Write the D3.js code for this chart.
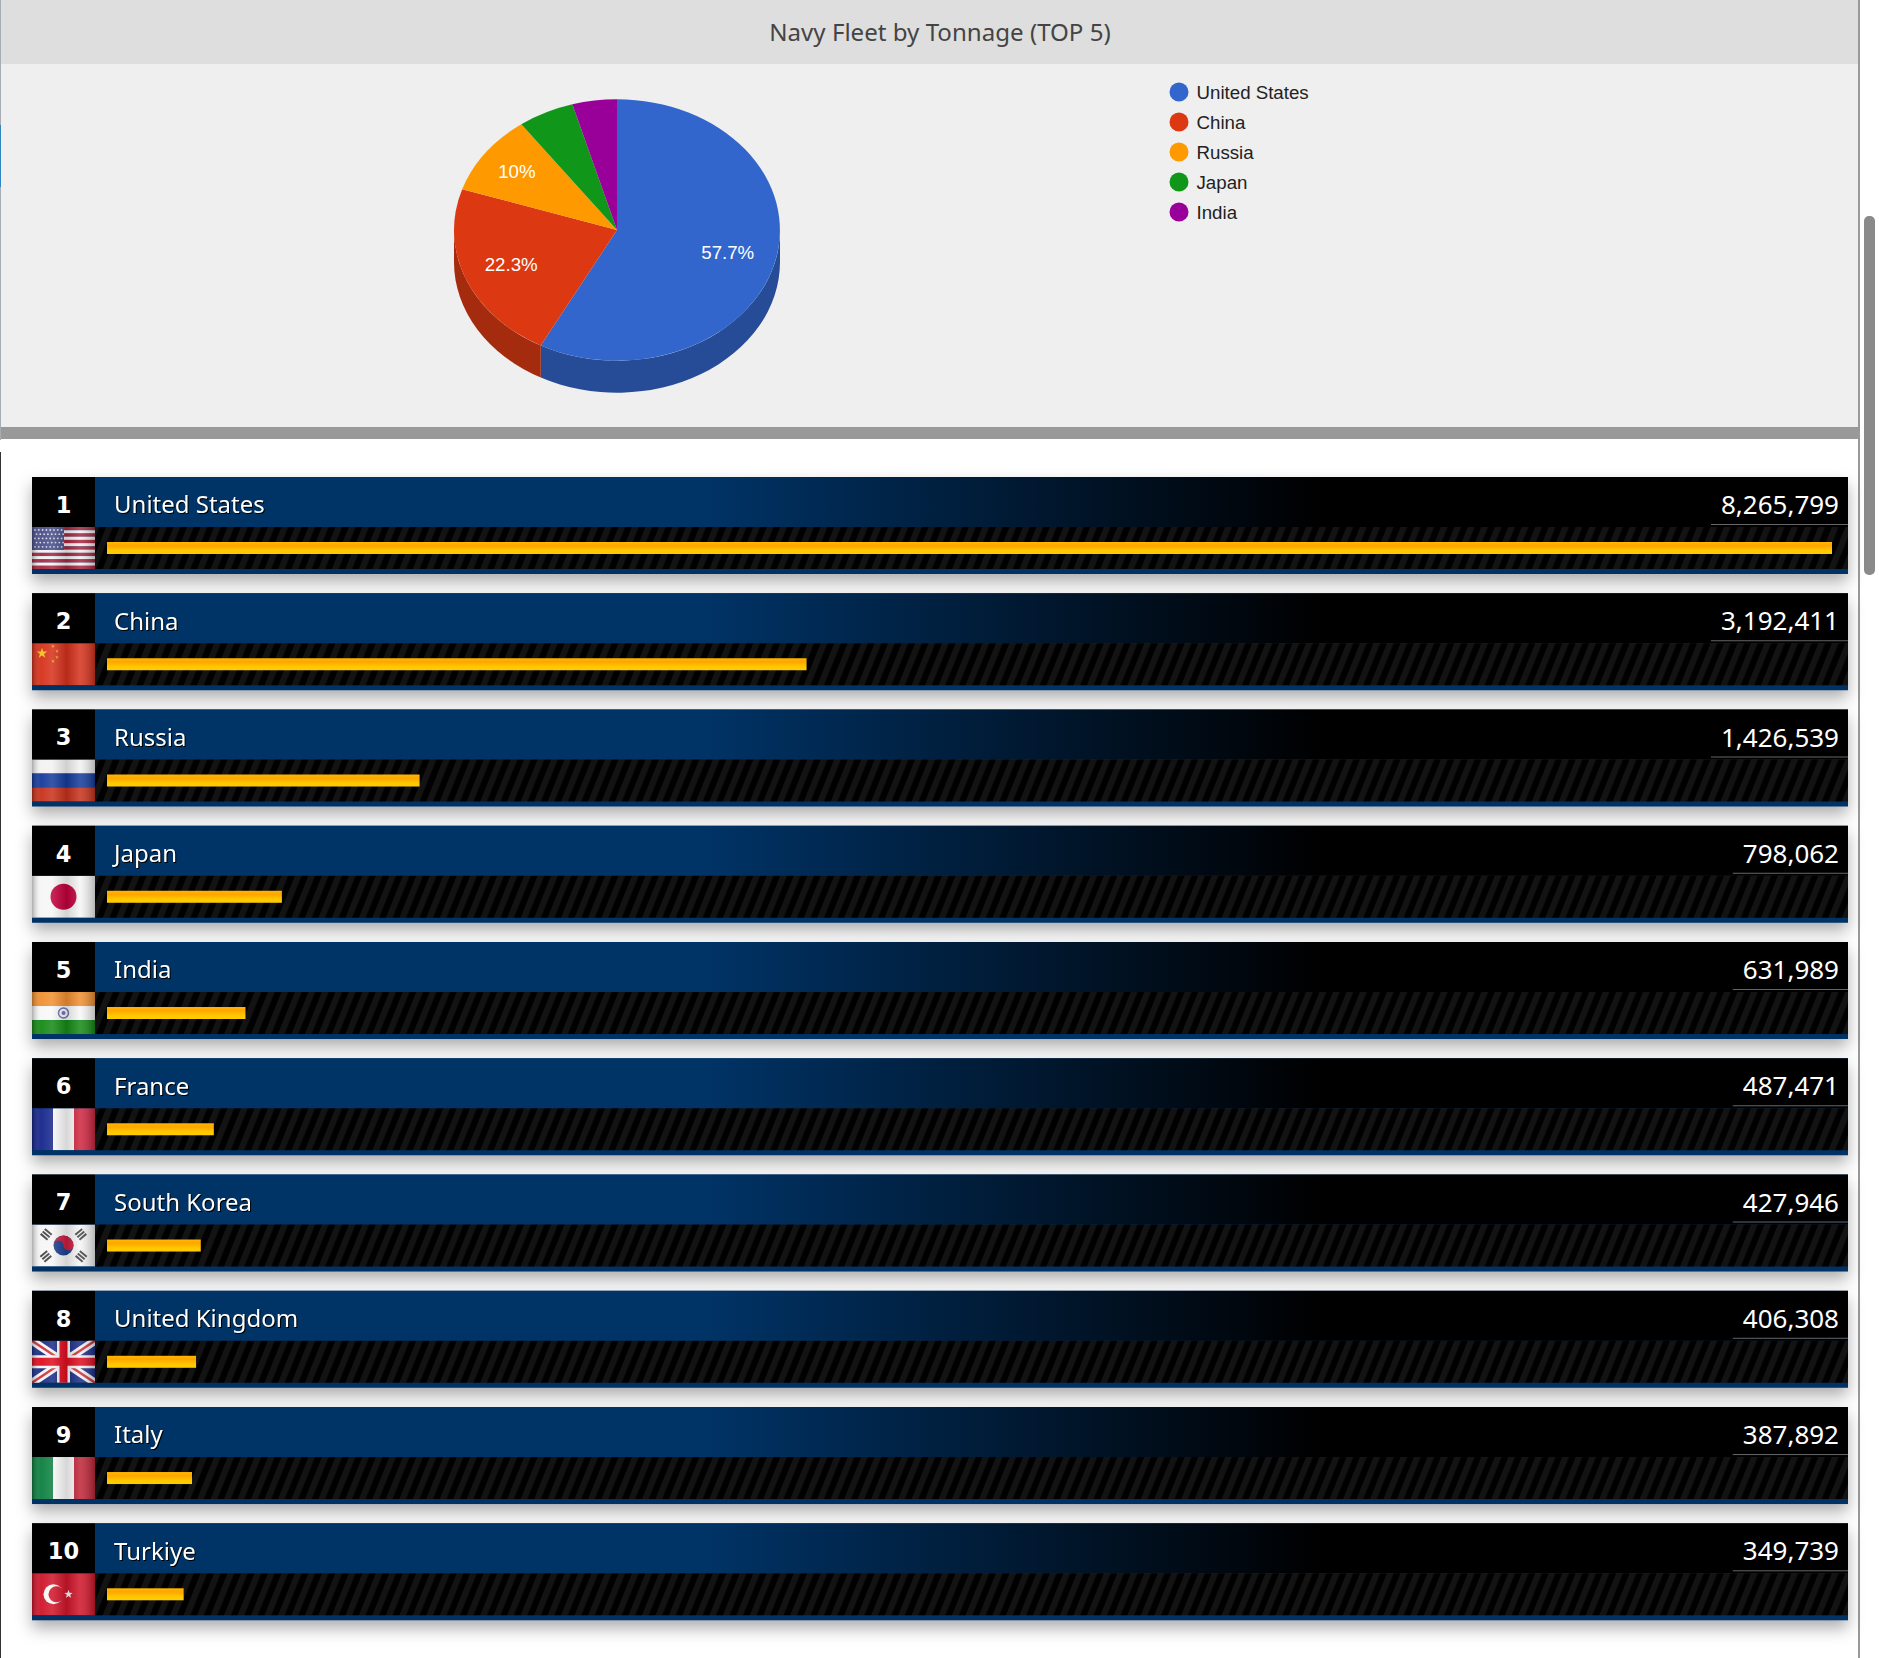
<!DOCTYPE html>
<html>
<head>
<meta charset="utf-8">
<script src="https://cdn.jsdelivr.net/npm/d3@7"></script>
<style>
html, body { margin: 0; padding: 0; background: #fff; overflow: hidden; }
svg { display: block; }
text { font-family: "Noto Sans", sans-serif; }
.gchart { font-family: "Liberation Sans", Arial, sans-serif; }
</style>
</head>
<body>
<div id="chart"></div>
<script>
// values
const countries = ["United States", "China", "Russia", "Japan", "India", "France", "South Korea", "United Kingdom", "Italy", "Turkiye"];
const tonnage = [8265799, 3192411, 1426539, 798062, 631989, 487471, 427946, 406308, 387892, 349739];
const pieCountries = countries.slice(0, 5);
const pieValues = tonnage.slice(0, 5);
const pieColors = ["#3366cc", "#dc3912", "#ff9900", "#109618", "#990099"];
const pieTitle = "Navy Fleet by Tonnage (TOP 5)";
// the bars run to about 105% of the top value and are cut at the track end
const barDomainMax = 7872000;

const width = 1879, height = 1658;
const svg = d3.select("#chart").append("svg").attr("width", width).attr("height", height);
const defs = svg.append("defs");

// page frame
svg.append("rect").attr("x", 1).attr("y", 0).attr("width", 1858).attr("height", 64).attr("fill", "#dedede");
svg.append("rect").attr("x", 1).attr("y", 64).attr("width", 1858).attr("height", 363).attr("fill", "#efefef");
svg.append("rect").attr("x", 1).attr("y", 427).attr("width", 1858).attr("height", 12).attr("fill", "#999");
svg.append("rect").attr("x", 0).attr("y", 0).attr("width", 1).attr("height", 440).attr("fill", "#a8adb3");
svg.append("rect").attr("x", 0).attr("y", 125).attr("width", 1).attr("height", 62).attr("fill", "#2f86c0");
svg.append("rect").attr("x", 0).attr("y", 452).attr("width", 1).attr("height", 1206).attr("fill", "#333");
svg.append("rect").attr("x", 1858).attr("y", 0).attr("width", 2).attr("height", height).attr("fill", "#999");
svg.append("rect").attr("x", 1864).attr("y", 216).attr("width", 11).attr("height", 359).attr("rx", 5).attr("fill", "#8a8a8a");

svg.append("text").attr("x", 940).attr("y", 33).attr("dy", "0.35em")
    .attr("text-anchor", "middle").style("font-size", "24.1px").attr("fill", "#444")
    .text(pieTitle);

// 3D pie: a flat pie squashed to an ellipse, with a wall for the front half
const cx = 617, cy = 230, rx = 163, ry = 130.7, depth = 32;
const pie = d3.pie().sort(null)(pieValues);
const total = d3.sum(pieValues);
const unitArc = d3.arc().innerRadius(0).outerRadius(1);
const pieG = svg.append("g").attr("transform", `translate(${cx},${cy})`);

// narrow slices push their label further out
function labelPos(d) {
    const k = d.value / total < 0.15 ? 0.76 : 0.7;
    return d3.arc().innerRadius(k).outerRadius(k).centroid(d);
}
function wallPath(d) {
    const a0 = Math.max(d.startAngle, Math.PI / 2);
    const a1 = Math.min(d.endAngle, Math.PI * 1.5);
    if (a1 <= a0) return null;
    const x0 = rx * Math.sin(a0), y0 = -ry * Math.cos(a0);
    const x1 = rx * Math.sin(a1), y1 = -ry * Math.cos(a1);
    return `M${x0},${y0}A${rx},${ry} 0 0 1 ${x1},${y1}L${x1},${y1 + depth}A${rx},${ry} 0 0 0 ${x0},${y0 + depth}Z`;
}
pieG.selectAll("path.wall").data(pie).join("path")
    .attr("class", "wall")
    .attr("d", wallPath)
    .attr("fill", d => d3.color(pieColors[d.index]).darker(0.82));
pieG.selectAll("path.top").data(pie).join("path")
    .attr("class", "top")
    .attr("d", unitArc)
    .attr("transform", `scale(${rx},${ry})`)
    .attr("fill", d => pieColors[d.index]);
pieG.selectAll("text").data(pie.filter(d => d.value / total >= 0.08)).join("text")
    .attr("class", "gchart")
    .attr("x", d => labelPos(d)[0] * rx)
    .attr("y", d => labelPos(d)[1] * ry)
    .attr("dy", "0.35em")
    .attr("text-anchor", "middle")
    .attr("fill", "#fff")
    .style("font-size", "18.7px")
    .text(d => d3.format(".1~f")(d.value / total * 100) + "%");

// legend
const legend = svg.append("g").selectAll("g").data(pieCountries).join("g")
    .attr("transform", (d, i) => `translate(1179,${92 + i * 30})`);
legend.append("circle").attr("r", 9.5).attr("fill", (d, i) => pieColors[i]);
legend.append("text").attr("class", "gchart").attr("x", 17.5).attr("dy", "0.35em")
    .style("font-size", "18.7px").attr("fill", "#222").text(d => d);

// row styles
const headGrad = defs.append("linearGradient").attr("id", "headGrad");
headGrad.append("stop").attr("offset", "35%").attr("stop-color", "#003366");
headGrad.append("stop").attr("offset", "70%").attr("stop-color", "#000");

const barGrad = defs.append("linearGradient").attr("id", "barGrad").attr("x1", 0).attr("y1", 0).attr("x2", 0).attr("y2", 1);
barGrad.append("stop").attr("offset", "0%").attr("stop-color", "#ffb800");
barGrad.append("stop").attr("offset", "30%").attr("stop-color", "#ffa500");
barGrad.append("stop").attr("offset", "70%").attr("stop-color", "#ffc800");
barGrad.append("stop").attr("offset", "100%").attr("stop-color", "#ffcc00");

const stripes = defs.append("pattern").attr("id", "stripes").attr("patternUnits", "userSpaceOnUse")
    .attr("width", 12.5).attr("height", 12.5).attr("patternTransform", "rotate(22)");
stripes.append("rect").attr("width", 12.5).attr("height", 12.5).attr("fill", "#000");
stripes.append("rect").attr("width", 6.25).attr("height", 12.5).attr("fill", "#131313");

const shadow = defs.append("filter").attr("id", "rowShadow")
    .attr("x", "-3%").attr("y", "-30%").attr("width", "106%").attr("height", "170%");
shadow.append("feDropShadow").attr("dx", 0).attr("dy", 8).attr("stdDeviation", 8)
    .attr("flood-color", "#000").attr("flood-opacity", 0.32);

const wave = defs.append("linearGradient").attr("id", "wave");
[[0, "#000", 0.3], [0.14, "#fff", 0.04], [0.32, "#fff", 0.14], [0.55, "#000", 0.14], [0.76, "#fff", 0.14], [1, "#000", 0.26]]
    .forEach(s => wave.append("stop").attr("offset", s[0]).attr("stop-color", s[1]).attr("stop-opacity", s[2]));

defs.append("filter").attr("id", "soft").append("feGaussianBlur").attr("stdDeviation", 0.55);
defs.append("clipPath").attr("id", "flagClip").append("rect").attr("width", 63).attr("height", 42);

const flagW = 63, flagH = 42;

function bands(g, colors, vertical) {
    const s = d3.scaleBand().domain(d3.range(colors.length)).range([0, vertical ? flagW : flagH]);
    g.selectAll(null).data(colors).join("rect")
        .attr("x", (d, i) => vertical ? s(i) : 0)
        .attr("y", (d, i) => vertical ? 0 : s(i))
        .attr("width", vertical ? s.bandwidth() : flagW)
        .attr("height", vertical ? flagH : s.bandwidth())
        .attr("fill", d => d);
}
function star(g, x, y, r, fill) {
    const pts = d3.range(10).map(i => {
        const a = i * Math.PI / 5, q = i % 2 ? r * 0.4 : r;
        return [x + q * Math.sin(a), y - q * Math.cos(a)];
    });
    g.append("polygon").attr("points", pts.join(" ")).attr("fill", fill);
}

const flags = {
    "United States": g => {
        bands(g, d3.range(13).map(i => i % 2 ? "#f4f0f2" : "#a8283f"), false);
        g.append("rect").attr("width", 32).attr("height", 23).attr("fill", "#4a4f8a");
        d3.range(5).forEach(r => d3.range(8).forEach(c => {
            g.append("circle").attr("cx", 3 + c * 3.8 + (r % 2) * 1.5).attr("cy", 3 + r * 4.2).attr("r", 0.9).attr("fill", "#d8d8e8");
        }));
    },
    "China": g => {
        g.append("rect").attr("width", flagW).attr("height", flagH).attr("fill", "#d6301c");
        star(g, 10, 10, 5.5, "#f0c020");
        [[21, 3], [25, 8], [25, 14], [21, 18]].forEach(p => star(g, p[0], p[1], 2, "#e8a020"));
    },
    "Russia": g => bands(g, ["#f2f2f2", "#123a9c", "#c8301f"], false),
    "Japan": g => {
        g.append("rect").attr("width", flagW).attr("height", flagH).attr("fill", "#f6f6f6");
        g.append("circle").attr("cx", 31.5).attr("cy", 21).attr("r", 13).attr("fill", "#c2053a");
    },
    "India": g => {
        bands(g, ["#f09030", "#f8f8f8", "#128a18"], false);
        g.append("circle").attr("cx", 31.5).attr("cy", 21).attr("r", 5).attr("fill", "none").attr("stroke", "#6a6fb0").attr("stroke-width", 1.5);
        g.append("circle").attr("cx", 31.5).attr("cy", 21).attr("r", 2).attr("fill", "#6a6fb0");
    },
    "France": g => bands(g, ["#12288c", "#fafafa", "#d02840"], true),
    "South Korea": g => {
        g.append("rect").attr("width", flagW).attr("height", flagH).attr("fill", "#f6f6f6");
        g.append("circle").attr("cx", 31.5).attr("cy", 21).attr("r", 10).attr("fill", "#1f3f8f");
        g.append("path").attr("d", "M21.5,21A10,10 0 0 1 41.5,21A5,5 0 0 1 31.5,21A5,5 0 0 0 21.5,21Z").attr("fill", "#cc1f3c");
        [[14, 10, 40], [49, 10, -40], [14, 32, -40], [49, 32, 40]].forEach(p => {
            d3.range(3).forEach(k => {
                g.append("rect").attr("x", -4.5).attr("y", -4.5 + k * 3.2).attr("width", 9).attr("height", 2).attr("fill", "#444")
                    .attr("transform", `translate(${p[0]},${p[1]}) rotate(${p[2]})`);
            });
        });
    },
    "United Kingdom": g => {
        g.append("rect").attr("width", flagW).attr("height", flagH).attr("fill", "#1f2f88");
        g.append("path").attr("d", "M0,0L63,42M63,0L0,42").attr("stroke", "#f4f4f4").attr("stroke-width", 8);
        g.append("path").attr("d", "M0,0L63,42M63,0L0,42").attr("stroke", "#d0303c").attr("stroke-width", 2.5);
        g.append("path").attr("d", "M31.5,0V42M0,21H63").attr("stroke", "#f4f4f4").attr("stroke-width", 13);
        g.append("path").attr("d", "M31.5,0V42M0,21H63").attr("stroke", "#e01020").attr("stroke-width", 8);
    },
    "Italy": g => bands(g, ["#0f8040", "#fafafa", "#c02838"], true),
    "Turkiye": g => {
        g.append("rect").attr("width", flagW).attr("height", flagH).attr("fill", "#d0142a");
        g.append("circle").attr("cx", 21.5).attr("cy", 21).attr("r", 10).attr("fill", "#f6f6f6");
        g.append("circle").attr("cx", 24.5).attr("cy", 21).attr("r", 8).attr("fill", "#d0142a");
        star(g, 36.5, 21, 4.5, "#f6f6f6");
    }
};

// rows
const rowX = 32, rowW = 1816, rankW = 63, rowH = 97, headH = 50, stripH = 5;
const y = d3.scaleBand().domain(countries).range([477, 1620.3]).paddingInner(0.1656).paddingOuter(0);
const x = d3.scaleLinear().domain([0, barDomainMax]).range([0, 1725]).clamp(true);
const fmt = d3.format(",");

const rows = svg.append("g").selectAll("g").data(countries).join("g")
    .attr("transform", d => `translate(${rowX},${y(d)})`);

rows.append("rect").attr("width", rowW).attr("height", rowH).attr("fill", "#003366").attr("filter", "url(#rowShadow)");
rows.append("rect").attr("width", rankW).attr("height", headH).attr("fill", "#000");
rows.append("rect").attr("x", rankW).attr("width", rowW - rankW).attr("height", headH).attr("fill", "url(#headGrad)");
rows.append("rect").attr("x", rankW).attr("y", headH).attr("width", rowW - rankW).attr("height", rowH - headH - stripH).attr("fill", "url(#stripes)");

rows.append("text").attr("x", rankW / 2).attr("y", 28).attr("dy", "0.35em")
    .attr("text-anchor", "middle").attr("fill", "#fff")
    .style("font-family", "'DejaVu Sans', sans-serif").style("font-weight", 700).style("font-size", "22.5px")
    .text((d, i) => i + 1);

rows.append("text").attr("x", 82).attr("y", 28).attr("dy", "0.35em")
    .attr("fill", "#fff").style("font-size", "24px")
    .style("filter", "drop-shadow(1px 1px 0 #000)")
    .text(d => d);

const valueText = rows.append("text").attr("x", 1807).attr("y", 28).attr("dy", "0.35em")
    .attr("text-anchor", "end").attr("fill", "#fff").style("font-size", "26px")
    .text((d, i) => fmt(tonnage[i]));

// thin rule under each value, as wide as its text plus padding
rows.append("rect")
    .attr("x", (d, i) => 1807 - valueText.nodes()[i].getComputedTextLength() - 10)
    .attr("y", 47)
    .attr("width", (d, i) => valueText.nodes()[i].getComputedTextLength() + 19)
    .attr("height", 1)
    .attr("fill", "#666");

rows.append("rect").attr("x", 75).attr("y", 65)
    .attr("width", (d, i) => x(tonnage[i]))
    .attr("height", 12)
    .attr("fill", "url(#barGrad)");

const flagG = rows.append("g").attr("transform", `translate(0,${headH})`).attr("clip-path", "url(#flagClip)");
flagG.each(function(d) {
    const inner = d3.select(this).append("g").attr("filter", "url(#soft)");
    flags[d](inner);
    d3.select(this).append("rect").attr("width", flagW).attr("height", flagH).attr("fill", "url(#wave)");
});
</script>
</body>
</html>
